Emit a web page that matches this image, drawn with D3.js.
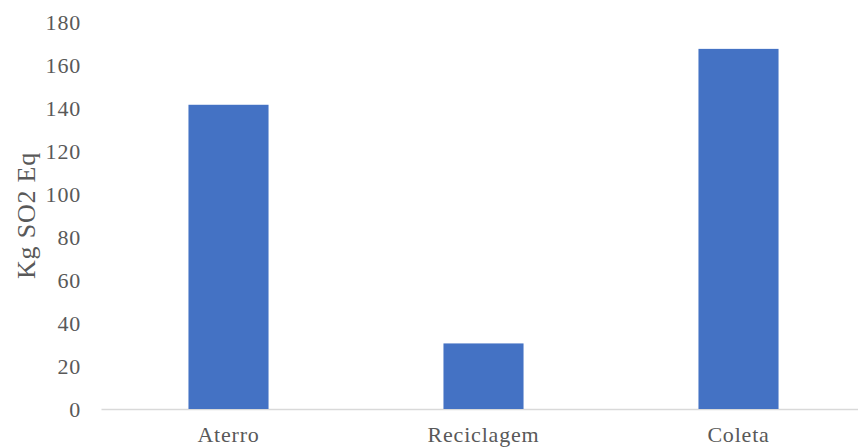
<!DOCTYPE html>
<html>
<head>
<meta charset="utf-8">
<script src="https://cdn.jsdelivr.net/npm/d3@7"></script>
<style>
  html, body { margin: 0; padding: 0; background: #fff; overflow: hidden; }
  svg { display: block; }
  text { font-family: "Liberation Serif", "Times New Roman", serif; fill: #595959; }
</style>
</head>
<body>
<svg id="chart" width="858" height="448"></svg>
<script>
const categories = ["Aterro", "Reciclagem", "Coleta"];
const values = [141.5, 30.5, 167.5];
const yTicks = [0, 20, 40, 60, 80, 100, 120, 140, 160, 180];
const yTitle = "Kg SO2 Eq";

const svg = d3.select("#chart");
const y = d3.scaleLinear().domain([0, 180]).range([409, 22]);
const x = d3.scaleBand().domain(categories).range([101, 866])
  .paddingInner(0.686).paddingOuter(0.343);

// axis baseline
const xAxis = d3.axisBottom(x).tickSize(0).tickPadding(0);
const gx = svg.append("g").attr("transform", `translate(0,${y(0)})`).call(xAxis);
gx.select(".domain").attr("stroke", "#d9d9d9").attr("stroke-width", 1.5);
gx.selectAll(".tick text").attr("font-size", 22).attr("dy", "33px")
  .style("font-family", '"Liberation Serif", serif').attr("fill", "#595959").style("letter-spacing", "0.8px");

// bars
svg.append("g").selectAll("rect").data(values).join("rect")
  .attr("x", (d, i) => x(categories[i]))
  .attr("width", x.bandwidth())
  .attr("y", d => y(d))
  .attr("height", d => y(0) - y(d))
  .attr("fill", "#4472c4");

// y axis labels
const yAxis = d3.axisLeft(y).tickValues(yTicks).tickSize(0).tickPadding(0);
const gy = svg.append("g").attr("transform", "translate(81,0)").call(yAxis);
gy.select(".domain").remove();
gy.selectAll(".tick text").attr("font-size", 22)
  .style("font-family", '"Liberation Serif", serif').attr("fill", "#595959").style("letter-spacing", "0.8px");

svg.append("text")
  .attr("transform", `translate(26,${(y(0)+y(180))/2}) rotate(-90)`)
  .attr("text-anchor", "middle").attr("dy", "0.35em")
  .attr("font-size", 26).style("letter-spacing", "0.8px")
  .text(yTitle);
</script>
</body>
</html>
